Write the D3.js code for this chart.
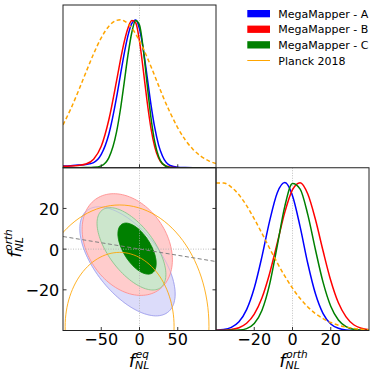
<!DOCTYPE html>
<html>
<head>
<meta charset="utf-8">
<script src="https://cdn.jsdelivr.net/npm/d3@7"></script>
<style>
    body { margin: 0; background: #fff; }
    svg { display: block; font-family: "DejaVu Sans", sans-serif; }
</style>
</head>
<body>
<svg id="chart" width="374" height="376"></svg>
<script>
// series
var seriesNames = ["MegaMapper - A", "MegaMapper - B", "MegaMapper - C", "Planck 2018"];

// 1D marginals of f_NL^eq (peak normalised)
var eqGrid = [-100, -90, -80, -70, -60, -50, -40, -30, -25, -20, -15, -10, -5, 0, 5, 10, 15, 20, 25, 30, 40, 50, 60, 70, 80, 90, 100];
var eqA = [0.012, 0.014, 0.018, 0.022, 0.035, 0.09, 0.228, 0.475, 0.625, 0.772, 0.895, 0.976, 0.999, 0.939, 0.799, 0.614, 0.427, 0.269, 0.153, 0.079, 0.015, 0.003, 0.001, 0, 0, 0, 0];
var eqB = [0.01, 0.012, 0.016, 0.025, 0.058, 0.145, 0.326, 0.587, 0.726, 0.851, 0.945, 0.995, 0.98, 0.856, 0.658, 0.446, 0.266, 0.139, 0.064, 0.026, 0.003, 0, 0, 0, 0, 0, 0];
var eqC = [0, 0, 0, 0.001, 0.003, 0.013, 0.068, 0.242, 0.392, 0.576, 0.764, 0.916, 0.995, 0.964, 0.798, 0.563, 0.338, 0.173, 0.076, 0.028, 0.002, 0, 0, 0, 0, 0, 0];
var eqPlanck = [0.29, 0.396, 0.517, 0.645, 0.77, 0.878, 0.957, 0.996, 1.0, 0.992, 0.973, 0.944, 0.905, 0.858, 0.805, 0.746, 0.684, 0.62, 0.555, 0.49, 0.373, 0.27, 0.187, 0.124, 0.079, 0.048, 0.028];

// 1D marginals of f_NL^orth
var orthGrid = [-40, -36, -32, -28, -24, -20, -16, -12, -8, -4, 0, 4, 8, 12, 16, 20, 24, 28, 32, 36, 40];
var orthA = [0.002, 0.006, 0.021, 0.059, 0.141, 0.287, 0.498, 0.738, 0.93, 1.0, 0.911, 0.7, 0.453, 0.248, 0.114, 0.044, 0.015, 0.004, 0.001, 0, 0];
var orthB = [0.001, 0.002, 0.007, 0.019, 0.049, 0.111, 0.22, 0.384, 0.59, 0.8, 0.952, 0.999, 0.922, 0.75, 0.537, 0.338, 0.187, 0.092, 0.039, 0.015, 0.005];
var orthC = [0, 0, 0.001, 0.003, 0.013, 0.047, 0.135, 0.31, 0.571, 0.841, 0.993, 0.956, 0.783, 0.546, 0.325, 0.164, 0.071, 0.026, 0.008, 0.002, 0];
var orthPlanck = [0.997, 0.997, 0.969, 0.917, 0.844, 0.755, 0.657, 0.556, 0.458, 0.367, 0.286, 0.216, 0.159, 0.114, 0.08, 0.054, 0.036, 0.023, 0.014, 0.009, 0.005];

// 2D contours: A outer, B outer, C outer, C inner (centre, half extents, correlation)
var contourCx = [-15.7, -16, -10.5, -3.2];
var contourCy = [-6, 2.25, 0.15, 0.25];
var contourHx = [62.3, 59, 45, 25];
var contourHy = [26.8, 25, 20.25, 12.55];
var contourRho = [-0.6, -0.3, -0.62, -0.58];

// Planck 2018 contours (68%, 95%)
var planckCx = [-26, -26];
var planckCy = [-38, -38];
var planckHx = [71.2, 116.8];
var planckHy = [36.4, 59.7];

// dashed degeneracy line
var degenEq = [-100, 100];
var degenOrth = [6.2, -6.1];

var eqTicks = [-50, 0, 50];
var orthTicks = [-20, 0, 20];

// layout
var L = 63, T = 5, W = 153, H = 162.75;
var lineColors = ["#0000ff", "#ff0000", "#008000", "#ffa500"];
var fillColors = ["#dcdcfa", "#ffcccc", "#cce6cc", "#008000"];
var edgeColors = ["#b4b4f0", "#ff9090", "#8cc48c", "#008000"];

var svg = d3.select("#chart");

var xEq = d3.scaleLinear().domain([-100, 100]).range([L, L + W]);
var yOrth = d3.scaleLinear().domain([-40, 40]).range([T + 2 * H, T + H]);
var xOrth = d3.scaleLinear().domain([-40, 40]).range([L + W, L + 2 * W]);
var yTop = d3.scaleLinear().domain([0, 1.1]).range([T + H, T]);
var yRight = d3.scaleLinear().domain([0, 1.1]).range([T + 2 * H, T + H]);

var defs = svg.append("defs");
function clip(id, x, y) {
    defs.append("clipPath").attr("id", id)
        .append("rect").attr("x", x).attr("y", y).attr("width", W).attr("height", H);
    return svg.append("g").attr("clip-path", "url(#" + id + ")");
}

var gTop = clip("clipTop", L, T);
var g2d = clip("clip2d", L, T + H);
var gRight = clip("clipRight", L + W, T + H);

// dotted zero lines
var gridStyle = function (sel) {
    sel.attr("stroke", "#b0b0b0").attr("stroke-width", 0.8).attr("stroke-dasharray", "1,1.5");
};

gTop.append("line").attr("x1", xEq(0)).attr("x2", xEq(0)).attr("y1", T).attr("y2", T + H).call(gridStyle);
gRight.append("line").attr("x1", xOrth(0)).attr("x2", xOrth(0)).attr("y1", T + H).attr("y2", T + 2 * H).call(gridStyle);

// 1D curves
function drawPdf(g, grid, values, xs, ys, i) {
    var line = d3.line()
        .x(function (d, k) { return xs(grid[k]); })
        .y(function (d) { return ys(d); })
        .curve(d3.curveMonotoneX);
    var p = g.append("path")
        .attr("d", line(values))
        .attr("fill", "none")
        .attr("stroke", lineColors[i])
        .attr("stroke-width", 1.5);
    if (i === 3) p.attr("stroke-dasharray", "4,2.6");
}

[eqA, eqB, eqC, eqPlanck].forEach(function (v, i) { drawPdf(gTop, eqGrid, v, xEq, yTop, i); });
[orthA, orthB, orthC, orthPlanck].forEach(function (v, i) { drawPdf(gRight, orthGrid, v, xOrth, yRight, i); });

// 2D contours
var angles = d3.range(0, 360, 3).map(function (a) { return a * Math.PI / 180; });
function ellipsePath(cx, cy, hx, hy, rho) {
    var pts = angles.map(function (t) {
        return [xEq(cx + hx * Math.cos(t)),
                yOrth(cy + hy * (rho * Math.cos(t) + Math.sqrt(1 - rho * rho) * Math.sin(t)))];
    });
    return d3.line().curve(d3.curveLinearClosed)(pts);
}

contourCx.forEach(function (cx, i) {
    g2d.append("path")
        .attr("d", ellipsePath(cx, contourCy[i], contourHx[i], contourHy[i], contourRho[i]))
        .attr("fill", fillColors[i])
        .attr("stroke", edgeColors[i])
        .attr("stroke-width", 0.9);
});
// A edge shows through the others
g2d.append("path")
    .attr("d", ellipsePath(contourCx[0], contourCy[0], contourHx[0], contourHy[0], contourRho[0]))
    .attr("fill", "none")
    .attr("stroke", "#9090e8")
    .attr("stroke-opacity", 0.45)
    .attr("stroke-width", 0.8);

planckHx.forEach(function (hx, i) {
    g2d.append("path")
        .attr("d", ellipsePath(planckCx[i], planckCy[i], hx, planckHy[i], 0))
        .attr("fill", "none")
        .attr("stroke", "#ffa500")
        .attr("stroke-opacity", 0.85)
        .attr("stroke-width", 1);
});

g2d.append("line").attr("x1", xEq(0)).attr("x2", xEq(0)).attr("y1", T + H).attr("y2", T + 2 * H).call(gridStyle);
g2d.append("line").attr("x1", L).attr("x2", L + W).attr("y1", yOrth(0)).attr("y2", yOrth(0)).call(gridStyle);

g2d.append("line")
    .attr("x1", xEq(degenEq[0])).attr("y1", yOrth(degenOrth[0]))
    .attr("x2", xEq(degenEq[1])).attr("y2", yOrth(degenOrth[1]))
    .attr("stroke", "#808080")
    .attr("stroke-width", 1)
    .attr("stroke-dasharray", "4,2.5");

// frames
var frame = svg.append("g").attr("fill", "none").attr("stroke", "#222").attr("stroke-width", 1);
frame.append("rect").attr("x", L).attr("y", T).attr("width", W).attr("height", H);
frame.append("rect").attr("x", L).attr("y", T + H).attr("width", W).attr("height", H);
frame.append("rect").attr("x", L + W).attr("y", T + H).attr("width", W).attr("height", H);

// inward ticks
var tk = 3.5;
var ticks = svg.append("g").attr("stroke", "#222").attr("stroke-width", 0.9);
eqTicks.forEach(function (v) {
    ticks.append("line").attr("x1", xEq(v)).attr("x2", xEq(v)).attr("y1", T + H).attr("y2", T + H - tk);
    ticks.append("line").attr("x1", xEq(v)).attr("x2", xEq(v)).attr("y1", T + 2 * H).attr("y2", T + 2 * H - tk);
});
orthTicks.forEach(function (v) {
    ticks.append("line").attr("x1", L).attr("x2", L + tk).attr("y1", yOrth(v)).attr("y2", yOrth(v));
    ticks.append("line").attr("x1", L + W).attr("x2", L + W - tk).attr("y1", yOrth(v)).attr("y2", yOrth(v));
    ticks.append("line").attr("x1", xOrth(v)).attr("x2", xOrth(v)).attr("y1", T + 2 * H).attr("y2", T + 2 * H - tk);
});

// tick labels
function fmt(v) { return v < 0 ? "\u2212" + Math.abs(v) : String(v); }
var labels = svg.append("g").attr("font-size", 16).attr("fill", "#000");
eqTicks.forEach(function (v) {
    labels.append("text").attr("x", xEq(v)).attr("y", T + 2 * H + 14.5).attr("text-anchor", "middle").text(fmt(v));
});
orthTicks.forEach(function (v) {
    labels.append("text").attr("x", L - 3.7).attr("y", yOrth(v) + 6.5).attr("text-anchor", "end").text(fmt(v));
    labels.append("text").attr("x", xOrth(v)).attr("y", T + 2 * H + 14.5).attr("text-anchor", "middle").text(fmt(v));
});

// axis titles: one text, f with subscript NL and a superscript
function mathLabel(parent, sup) {
    var t = parent.append("text").attr("font-style", "italic").attr("fill", "#000");
    t.append("tspan").attr("x", 0).attr("y", 0).attr("font-size", 18).text("f");
    t.append("tspan").attr("x", 7).attr("y", -8.5).attr("font-size", 10.5).text(sup);
    t.append("tspan").attr("x", 6.3).attr("y", 2.5).attr("font-size", 11).text("NL");
    var b = t.node().getBBox();
    t.attr("transform", "translate(" + (-(b.x + b.width / 2)) + ",0)");
    return t;
}
mathLabel(svg.append("g").attr("transform", "translate(139,366.5)"), "eq");
mathLabel(svg.append("g").attr("transform", "translate(293.5,366.5)"), "orth");
mathLabel(svg.append("g").attr("transform", "translate(20.5,243.5) rotate(-90)"), "orth");

// legend
var legend = svg.append("g").attr("font-size", 11);
var rowY = [13.7, 29.3, 44.9, 60.5];
seriesNames.forEach(function (name, i) {
    if (i < 3) {
        legend.append("rect").attr("x", 247.3).attr("y", rowY[i] - 3.7).attr("width", 22.7).attr("height", 7.3)
            .attr("fill", lineColors[i]);
    } else {
        legend.append("line").attr("x1", 247.3).attr("x2", 270).attr("y1", rowY[i]).attr("y2", rowY[i])
            .attr("stroke", lineColors[i]).attr("stroke-width", 1);
    }
    legend.append("text").attr("x", 278.3).attr("y", rowY[i] + 4).text(name);
});
</script>
</body>
</html>
